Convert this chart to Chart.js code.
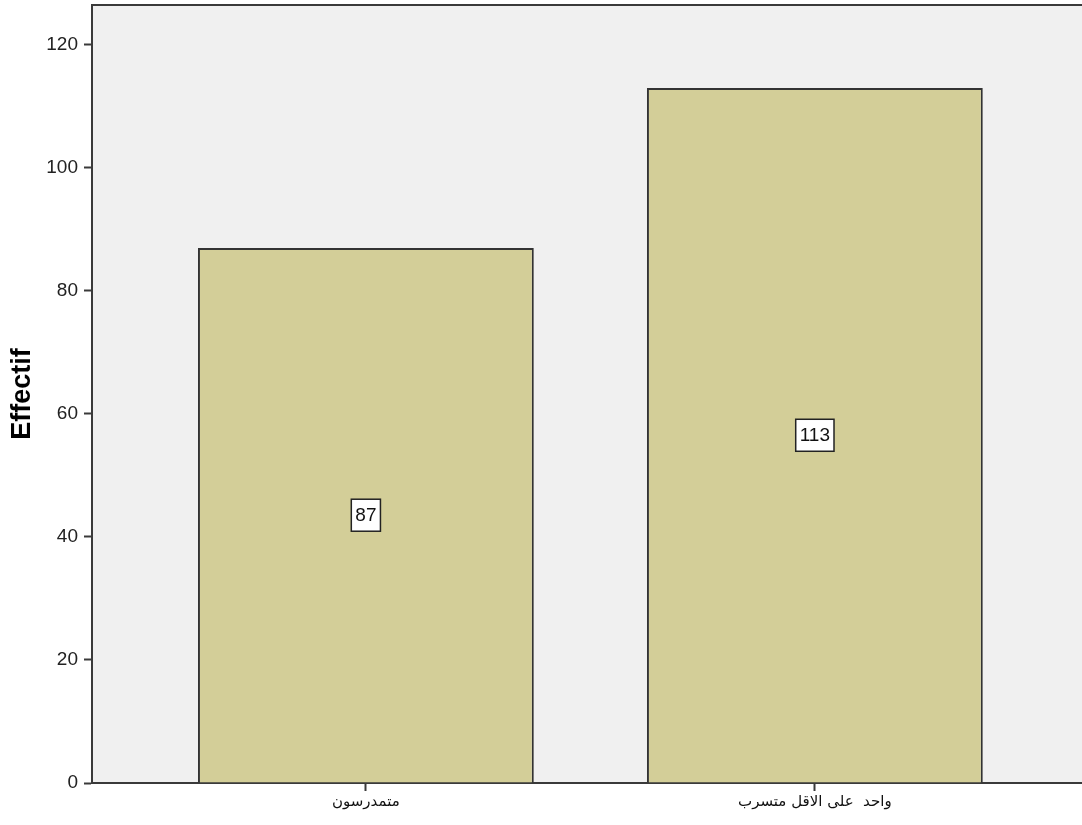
<!DOCTYPE html>
<html>
<head>
  <title>Effectif</title>
  <script src="https://cdn.jsdelivr.net/npm/chart.js"></script>
  <style>
    html, body { margin: 0; padding: 0; background: #fff; }
  </style>
</head>
<body>
<canvas id="barChart" width="1082" height="825"></canvas>

<script>
  // données
  const categories = ['متمدرسون', 'واحد  على الاقل متسرب'];
  const counts = [87, 113];
  const yTicks = [0, 20, 40, 60, 80, 100, 120];

  const axisColor = '#3a3a3a';

  // fond gris de la zone de tracé + trait du haut
  const plotBackground = {
    id: 'plotBackground',
    beforeDraw(chart) {
      const a = chart.chartArea;
      const ctx = chart.ctx;
      ctx.save();
      ctx.fillStyle = '#f0f0f0';
      ctx.fillRect(a.left, a.top, a.right - a.left, a.bottom - a.top);
      ctx.strokeStyle = axisColor;
      ctx.lineWidth = 2;
      ctx.beginPath();
      ctx.moveTo(a.left, a.top);
      ctx.lineTo(a.right, a.top);
      ctx.stroke();
      ctx.restore();
    }
  };

  // étiquettes encadrées au milieu des barres
  const boxLabels = {
    id: 'boxLabels',
    afterDatasetsDraw(chart) {
      const ctx = chart.ctx;
      const meta = chart.getDatasetMeta(0);
      ctx.save();
      ctx.font = '19px "Liberation Sans", Arial, sans-serif';
      ctx.textAlign = 'center';
      ctx.textBaseline = 'middle';
      meta.data.forEach((bar, i) => {
        const txt = String(counts[i]);
        const cy = (bar.y + bar.base) / 2;
        const w = ctx.measureText(txt).width + 8;
        const h = 32;
        ctx.fillStyle = '#ffffff';
        ctx.fillRect(bar.x - w / 2, cy - h / 2, w, h);
        ctx.strokeStyle = '#222';
        ctx.lineWidth = 1.5;
        ctx.strokeRect(bar.x - w / 2, cy - h / 2, w, h);
        ctx.fillStyle = '#111';
        ctx.fillText(txt, bar.x, cy + 1);
      });
      ctx.restore();
    }
  };

  const ctx = document.getElementById('barChart').getContext('2d');
  const chart = new Chart(ctx, {
    type: 'bar',
    data: {
      datasets: [{
        data: counts.map((v, i) => ({ x: i, y: v })),
        backgroundColor: '#d3ce98',
        borderColor: '#333',
        borderWidth: 2,
        barPercentage: 0.748,
        categoryPercentage: 1
      }]
    },
    options: {
      responsive: false,
      animation: false,
      layout: { padding: { top: 5, right: 0, left: 0, bottom: 0 } },
      plugins: {
        legend: { display: false },
        tooltip: { enabled: false }
      },
      scales: {
        x: {
          type: 'linear',
          offset: false,
          min: -0.61,
          max: 1.595,
          afterBuildTicks(scale) {
            scale.ticks = categories.map((c, i) => ({ value: i }));
          },
          afterFit(scale) {
            scale.height = 42;
            scale.paddingLeft = 0;
            scale.paddingRight = 0;
          },
          ticks: {
            callback: (v) => categories[v],
            font: { family: '"DejaVu Sans", sans-serif', size: 15 },
            color: '#111',
            padding: 2,
            maxRotation: 0
          },
          grid: {
            offset: false,
            drawOnChartArea: false,
            tickLength: 8,
            tickWidth: 2,
            tickColor: axisColor
          },
          border: { color: axisColor, width: 2 }
        },
        y: {
          min: 0,
          max: 126.5,
          afterBuildTicks(scale) {
            scale.ticks = yTicks.map(v => ({ value: v }));
          },
          afterFit(scale) {
            scale.width = 92;
            scale.paddingTop = 0;
            scale.paddingBottom = 0;
          },
          ticks: {
            font: { family: '"Liberation Sans", Arial, sans-serif', size: 19 },
            color: '#222',
            padding: 6
          },
          grid: {
            drawOnChartArea: false,
            tickLength: 8,
            tickWidth: 2,
            tickColor: axisColor
          },
          border: { color: axisColor, width: 2 },
          title: {
            display: true,
            text: 'Effectif',
            font: { family: '"Liberation Sans", Arial, sans-serif', size: 27, weight: 'bold' },
            color: '#000',
            padding: { top: 6, bottom: 0 }
          }
        }
      }
    },
    plugins: [plotBackground, boxLabels]
  });
</script>

</body>
</html>
